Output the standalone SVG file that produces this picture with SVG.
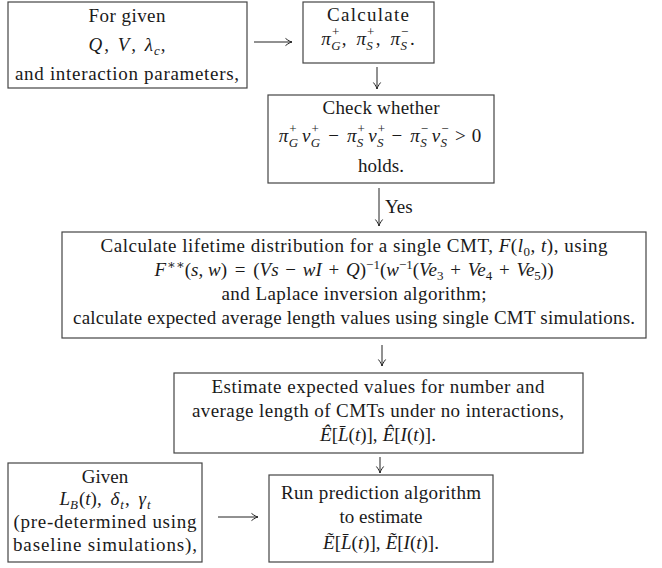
<svg xmlns="http://www.w3.org/2000/svg" width="662" height="568" viewBox="0 0 662 568">
<style>
.t { font-family: "Liberation Serif", "DejaVu Serif", serif; font-size: 19px; fill: #1a1a1a; text-anchor: middle; }
.i { font-style: italic; }
.s { font-size: 13px; }
.box { fill: #fff; stroke: #444; stroke-width: 1.2; }
.c { stroke: #222; stroke-width: 1; fill: none; }
</style>
<defs>
<marker id="ah" markerUnits="userSpaceOnUse" markerWidth="12" markerHeight="12" viewBox="-8 -6 10 12" refX="0" refY="0" orient="auto">
<path d="M-6.5,-3.6 C-3.5,-1.2 -1.2,-0.3 0,0 C-1.2,0.3 -3.5,1.2 -6.5,3.6" fill="none" stroke="#222" stroke-width="1"/>
</marker>
</defs>
<rect width="662" height="568" fill="#fff"/>

<g id="connectors">
<line class="c" x1="254" y1="42" x2="292" y2="42" marker-end="url(#ah)"/>
<line class="c" x1="377" y1="67" x2="377" y2="89" marker-end="url(#ah)"/>
<line class="c" x1="379" y1="188" x2="379" y2="226" marker-end="url(#ah)"/>
<text class="t" x="385" y="213" style="text-anchor:start">Yes</text>
<line class="c" x1="382" y1="345" x2="382" y2="366" marker-end="url(#ah)"/>
<line class="c" x1="380" y1="457" x2="380" y2="473" marker-end="url(#ah)"/>
<line class="c" x1="218" y1="517" x2="258" y2="517" marker-end="url(#ah)"/>
</g>

<g id="given-params">
<rect class="box" x="8" y="2" width="239" height="86"/>
<text class="t" x="127" y="22" textLength="77">For given</text>
<text class="t" x="127" y="51"><tspan class="i">Q</tspan><tspan dx="2">, </tspan><tspan class="i" dx="4">V</tspan><tspan dx="2">, </tspan><tspan class="i" dx="4">λ</tspan><tspan class="s i" dx="1" dy="4">c</tspan><tspan dx="1" dy="-4">,</tspan></text>
<text class="t" x="127" y="80" textLength="224">and interaction parameters,</text>
</g>

<g id="calculate-pi">
<rect class="box" x="303" y="2" width="131" height="61"/>
<text class="t" x="368" y="21" textLength="82">Calculate</text>
<text class="t" x="368" y="45"><tspan class="i">π</tspan><tspan class="s" dx="1" dy="-9.5">+</tspan><tspan class="s i" dx="-8" dy="14.5">G</tspan><tspan dx="1" dy="-5">,</tspan><tspan class="i" dx="10">π</tspan><tspan class="s" dx="1" dy="-9.5">+</tspan><tspan class="s i" dx="-8" dy="14.5">S</tspan><tspan dx="3" dy="-5">,</tspan><tspan class="i" dx="10">π</tspan><tspan class="s" dx="1" dy="-9.5">−</tspan><tspan class="s i" dx="-8" dy="14.5">S</tspan><tspan dx="3" dy="-5">.</tspan></text>
</g>

<g id="check-condition">
<rect class="box" x="268" y="95" width="226" height="88"/>
<text class="t" x="381" y="114" textLength="117">Check whether</text>
<text class="t" x="380" y="142"><tspan class="i">π</tspan><tspan class="s" dx="1" dy="-9.5">+</tspan><tspan class="s i" dx="-8" dy="14.5">G</tspan><tspan class="i" dx="4" dy="-5">v</tspan><tspan class="s" dx="1" dy="-9.5">+</tspan><tspan class="s i" dx="-8" dy="14.5">G</tspan><tspan dx="8" dy="-5">−</tspan><tspan class="i" dx="8">π</tspan><tspan class="s" dx="1" dy="-9.5">+</tspan><tspan class="s i" dx="-8" dy="14.5">S</tspan><tspan class="i" dx="5" dy="-5">v</tspan><tspan class="s" dx="1" dy="-9.5">+</tspan><tspan class="s i" dx="-8" dy="14.5">S</tspan><tspan dx="8" dy="-5">−</tspan><tspan class="i" dx="8">π</tspan><tspan class="s" dx="1" dy="-9.5">−</tspan><tspan class="s i" dx="-8" dy="14.5">S</tspan><tspan class="i" dx="5" dy="-5">v</tspan><tspan class="s" dx="1" dy="-9.5">−</tspan><tspan class="s i" dx="-8" dy="14.5">S</tspan><tspan dx="8" dy="-5">&gt;</tspan><tspan dx="6">0</tspan></text>
<text class="t" x="381" y="172">holds.</text>
</g>

<g id="lifetime-distribution">
<rect class="box" x="62" y="232" width="584" height="106"/>
<text class="t" x="354" y="252" textLength="507">Calculate lifetime distribution for a single CMT, <tspan class="i">F</tspan>(<tspan class="i">l</tspan><tspan class="s" dy="4">0</tspan><tspan dy="-4">, </tspan><tspan class="i">t</tspan>), using</text>
<text class="t" x="354" y="276"><tspan class="i">F</tspan><tspan class="s" dx="1" dy="-7">∗∗</tspan><tspan dy="7">(</tspan><tspan class="i">s</tspan>, <tspan class="i">w</tspan>)<tspan dx="3"> = </tspan><tspan dx="3">(</tspan><tspan class="i">Vs</tspan><tspan dx="2"> − </tspan><tspan class="i" dx="2">wI</tspan><tspan dx="2"> + </tspan><tspan class="i" dx="2">Q</tspan>)<tspan class="s" dy="-7">−1</tspan><tspan dy="7">(</tspan><tspan class="i">w</tspan><tspan class="s" dy="-7">−1</tspan><tspan dy="7">(</tspan><tspan class="i">Ve</tspan><tspan class="s" dy="4">3</tspan><tspan dx="2" dy="-4"> + </tspan><tspan class="i" dx="2">Ve</tspan><tspan class="s" dy="4">4</tspan><tspan dx="2" dy="-4"> + </tspan><tspan class="i" dx="2">Ve</tspan><tspan class="s" dy="4">5</tspan><tspan dy="-4">))</tspan></text>
<text class="t" x="354" y="300" textLength="265">and Laplace inversion algorithm;</text>
<text class="t" x="354" y="324" textLength="562">calculate expected average length values using single CMT simulations.</text>
</g>

<g id="estimate-no-interaction">
<rect class="box" x="174" y="373" width="409" height="80"/>
<text class="t" x="378" y="393" textLength="333">Estimate expected values for number and</text>
<text class="t" x="378" y="417" textLength="372">average length of CMTs under no interactions,</text>
<text class="t" x="378" y="441"><tspan class="i">Ê</tspan>[<tspan class="i">L̄</tspan>(<tspan class="i">t</tspan>)],<tspan class="i" dx="5">Ê</tspan>[<tspan class="i">I</tspan>(<tspan class="i">t</tspan>)].</text>
</g>

<g id="baseline-given">
<rect class="box" x="8" y="463" width="194" height="99"/>
<text class="t" x="105" y="483">Given</text>
<text class="t" x="105" y="505"><tspan class="i">L</tspan><tspan class="s i" dy="4">B</tspan><tspan dx="1" dy="-4">(</tspan><tspan class="i">t</tspan>)<tspan>, </tspan><tspan class="i" dx="4">δ</tspan><tspan class="s i" dx="1" dy="4">t</tspan><tspan dx="1" dy="-4">, </tspan><tspan class="i" dx="4">γ</tspan><tspan class="s i" dx="1" dy="4">t</tspan></text>
<text class="t" x="105" y="528" textLength="183">(pre-determined using</text>
<text class="t" x="105" y="551" textLength="184">baseline simulations),</text>
</g>

<g id="prediction">
<rect class="box" x="269" y="475" width="224" height="87"/>
<text class="t" x="381" y="499" textLength="200">Run prediction algorithm</text>
<text class="t" x="381" y="523">to estimate</text>
<text class="t" x="381" y="549"><tspan class="i">Ẽ</tspan>[<tspan class="i">L̄</tspan>(<tspan class="i">t</tspan>)],<tspan class="i" dx="5">Ẽ</tspan>[<tspan class="i">I</tspan>(<tspan class="i">t</tspan>)].</text>
</g>
</svg>
